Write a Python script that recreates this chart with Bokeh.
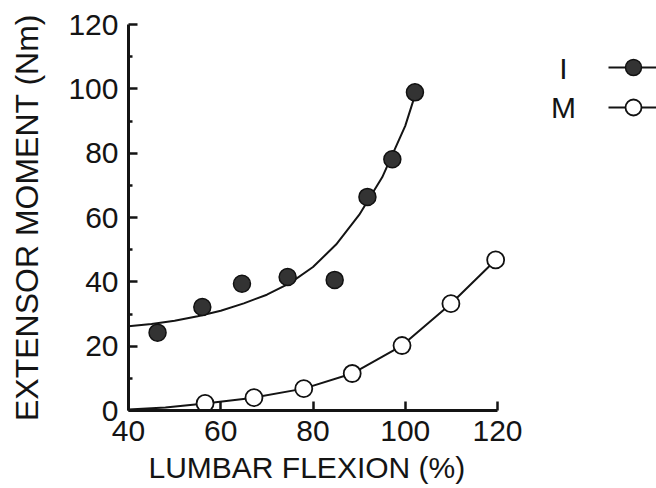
from bokeh.plotting import figure
from bokeh.models import Range1d, FixedTicker, Legend, LegendItem, Label, Title
from bokeh.embed import file_html
from bokeh.resources import INLINE

# Data
x_ticks = [40, 60, 80, 100, 120]
y_ticks = [0, 20, 40, 60, 80, 100, 120]
y_minor = [10, 30, 50, 70, 90, 110]

i_x = [46.3, 56.0, 64.6, 74.5, 84.7, 91.8, 97.2, 102.1]
i_y = [24.2, 32.2, 39.4, 41.5, 40.6, 66.4, 78.1, 98.9]

m_x = [56.6, 67.2, 78.0, 88.5, 99.3, 109.9, 119.6]
m_y = [2.2, 4.0, 6.8, 11.5, 20.2, 33.2, 46.8]

# fitted curves as they appear in the picture
i_curve_x = [40, 45, 50, 55, 60, 65, 70, 75, 80, 85, 90, 95, 100, 102]
i_curve_y = [26.2, 26.9, 27.9, 29.3, 31.0, 33.3, 36.0, 39.6, 44.6, 51.6, 60.8, 72.5, 88.5, 97.5]

m_curve_x = [40, 48, 56.6, 67.2, 78.0, 88.5, 99.3, 109.9, 119.6]
m_curve_y = [0.3, 0.9, 2.2, 4.0, 6.8, 11.5, 20.2, 33.2, 46.8]

series_names = ["I", "M"]
x_title = "LUMBAR FLEXION (%)"
y_title = "EXTENSOR MOMENT (Nm)"

FONT = "Liberation Sans"
INK = "#141414"

# frame extends to the right edge so the legend (outside the axes) can be drawn
p = figure(width=656, height=488, output_backend="svg", toolbar_location=None,
           x_range=Range1d(40, 154.47), y_range=Range1d(0, 120),
           min_border_left=128, min_border_right=0, min_border_top=24, min_border_bottom=77)
p.outline_line_color = None
p.grid.visible = False
p.background_fill_color = "white"
p.border_fill_color = "white"

for ax in (p.xaxis[0], p.yaxis[0]):
    ax.axis_line_width = 3
    ax.axis_line_color = INK
    ax.major_tick_line_color = INK
    ax.major_tick_line_width = 2.5
    ax.major_tick_in = 9
    ax.major_tick_out = 0
    ax.minor_tick_line_color = INK
    ax.minor_tick_line_width = 2.5
    ax.minor_tick_in = 4
    ax.minor_tick_out = 1
    ax.major_label_text_font = FONT
    ax.major_label_text_font_size = "30px"
    ax.major_label_text_color = INK
    ax.axis_label_text_font = FONT
    ax.axis_label_text_font_style = "normal"
    ax.axis_label_text_color = INK

p.xaxis[0].bounds = (40, 120)
p.xaxis[0].ticker = FixedTicker(ticks=x_ticks)
p.yaxis[0].ticker = FixedTicker(ticks=y_ticks, minor_ticks=y_minor)
p.yaxis[0].axis_label = y_title
p.yaxis[0].axis_label_text_font_size = "32px"
p.xaxis[0].major_label_standoff = 10
p.yaxis[0].major_label_standoff = 9
p.yaxis[0].axis_label_standoff = 20

# x-axis title, aligned under the 40-120 part of the axis
p.add_layout(Title(text=x_title, align="left", offset=20, standoff=10,
                   text_font=FONT, text_font_size="30px", text_font_style="normal",
                   text_color=INK), "below")

li = p.line(i_curve_x, i_curve_y, line_color=INK, line_width=2)
si = p.scatter(i_x, i_y, size=17, fill_color="#333333", line_color="#111111", line_width=1.5)
lm = p.line(m_curve_x, m_curve_y, line_color=INK, line_width=2)
sm = p.scatter(m_x, m_y, size=17, fill_color="white", line_color="#111111", line_width=1.8)

legend = Legend(items=[LegendItem(label=" ", renderers=[li, si]),
                       LegendItem(label=" ", renderers=[lm, sm])],
                location=(480, 283), glyph_width=50, glyph_height=40, spacing=0,
                padding=0, margin=0, label_width=0, label_standoff=0,
                label_text_font_size="6px", border_line_color=None,
                background_fill_alpha=0)
p.add_layout(legend)

for txt, yy in zip(series_names, (106.4, 94.3)):
    p.add_layout(Label(x=134.3, y=yy, text=txt,
                       text_font=FONT, text_font_size="30px", text_color=INK,
                       text_align="center", text_baseline="middle"))

open("out.html", "w").write(file_html(p, INLINE))
